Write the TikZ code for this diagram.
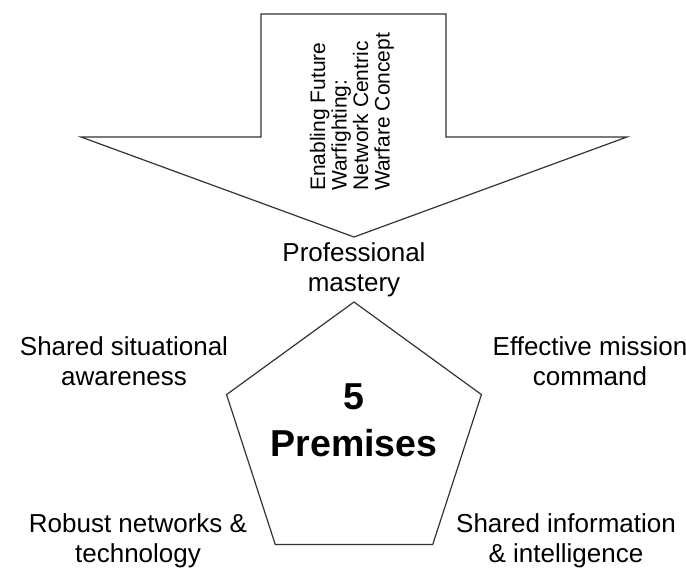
\documentclass[tikz,border=0pt]{standalone}
\usepackage{fontspec}
\setmainfont{Liberation Sans}
\usetikzlibrary{shapes, positioning, calc}

\begin{document}
\begin{tikzpicture}[x=1pt, y=-1pt,
  outline/.style={draw=black!80, line width=1.2pt},
  premise/.style={align=center, font=\fontsize{26}{30}\selectfont}]
\useasboundingbox (0,0) rectangle (686,569);
% big arrow
\draw[outline, line join=miter] (261,14) -- (446,14) -- (446,137) -- (627,137)
  -- (354,237) -- (81,137) -- (261,137) -- cycle;
\node[rotate=90, anchor=west, align=left, inner sep=0pt,
  font=\fontsize{21}{21.5}\selectfont] (concept) at (352,191)
  {Enabling Future\\Warfighting:\\Network Centric\\Warfare Concept};
% pentagon
\node[regular polygon, regular polygon sides=5, outline, minimum size=268pt,
  inner sep=0pt] (penta) at (354,436) {};
\node[align=center, font=\bfseries\fontsize{37.5}{47}\selectfont] (five) at (354,420)
  {5\\Premises};
% the five premises
\node[premise] (mastery) at (354,270) {Professional\\mastery};
\node[premise] (awareness) at (124,361) {Shared situational\\awareness};
\node[premise] (command) at (590,361) {Effective mission\\command};
\node[premise] (networks) at (138,541) {Robust networks \&\\technology};
\node[premise] (intel) at (566,541) {Shared information\\\& intelligence};
\end{tikzpicture}
\end{document}
